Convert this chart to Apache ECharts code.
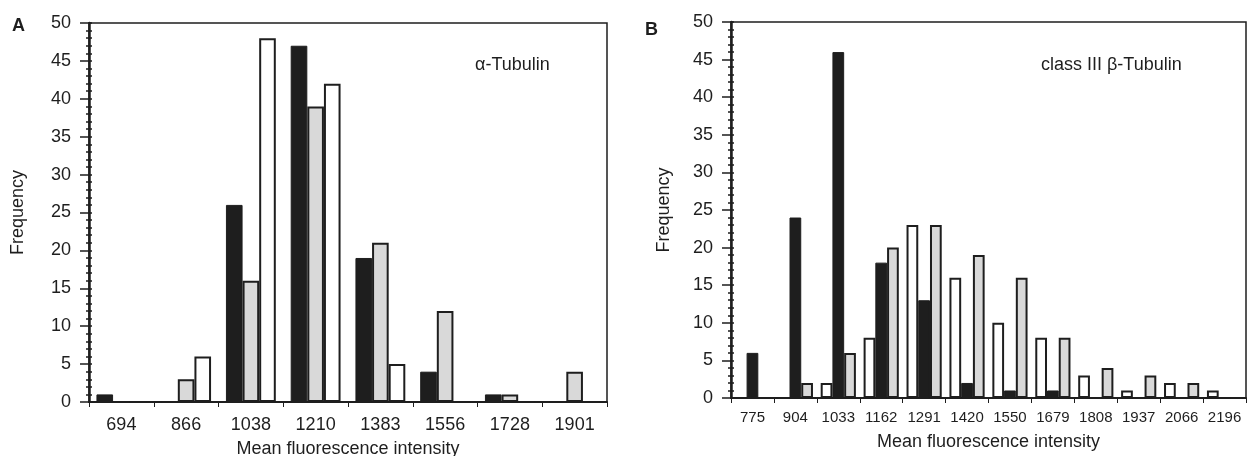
<!DOCTYPE html>
<html>
<head>
<meta charset="utf-8">
<script src="https://cdn.jsdelivr.net/npm/echarts@6/dist/echarts.min.js"></script>
<style>
  html, body { margin: 0; padding: 0; background: #fff; }
  #chart { width: 1248px; height: 456px; }
</style>
</head>
<body>
<div id="chart"></div>
<script>
// Panel A: alpha-tubulin
var catsA = ['694', '866', '1038', '1210', '1383', '1556', '1728', '1901'];
var blackA = [1, 0, 26, 47, 19, 4, 1, 0];
var grayA  = [0, 3, 16, 39, 21, 12, 1, 4];
var whiteA = [0, 6, 48, 42, 5, 0, 0, 0];

// Panel B: class III beta-tubulin
var catsB = ['775', '904', '1033', '1162', '1291', '1420', '1550', '1679', '1808', '1937', '2066', '2196'];
var whiteB = [0, 0, 2, 8, 23, 16, 10, 8, 3, 1, 2, 1];
var blackB = [6, 24, 46, 18, 13, 2, 1, 1, 0, 0, 0, 0];
var grayB  = [0, 2, 6, 20, 23, 19, 16, 8, 4, 3, 2, 0];

var font = "'Liberation Sans', Arial, sans-serif";
var ink = '#1e1e1e';

var styleBlack = { color: '#1e1e1e', borderColor: ink, borderWidth: 1 };
var styleGray = { color: '#d9d9d9', borderColor: ink, borderWidth: 2 };
var styleWhite = { color: '#ffffff', borderColor: ink, borderWidth: 2 };

function bar(name, data, xi, style, gap) {
    return {
        name: name,
        type: 'bar',
        xAxisIndex: xi,
        yAxisIndex: xi * 2,
        data: data,
        barGap: '0%',
        barCategoryGap: gap,
        itemStyle: style,
        silent: true
    };
}

function yMain(gi, nameGap) {
    return {
        type: 'value',
        gridIndex: gi,
        position: 'left',
        min: 0,
        max: 50,
        interval: 5,
        name: 'Frequency',
        nameLocation: 'middle',
        nameGap: nameGap,
        nameTextStyle: { fontFamily: font, fontSize: 18, color: ink },
        axisLine: { show: true, lineStyle: { color: ink, width: 2.5 } },
        axisTick: { show: true, length: 9, lineStyle: { color: ink, width: 1.5 } },
        minorTick: { show: true, splitNumber: 5, length: 3, lineStyle: { color: ink, width: 1.5 } },
        axisLabel: { fontFamily: font, fontSize: 18, color: ink, margin: 18 },
        splitLine: { show: false }
    };
}

// helper axis: minor ticks on the inner side of the y axis
function yInner(gi) {
    return {
        type: 'value',
        gridIndex: gi,
        position: 'left',
        min: 0,
        max: 50,
        interval: 1,
        axisLine: { show: false },
        axisTick: { show: true, inside: true, length: 3, lineStyle: { color: ink, width: 1.5 } },
        axisLabel: { show: false },
        splitLine: { show: false }
    };
}

function xAxis(gi, cats, fs, margin, nameGap) {
    return {
        type: 'category',
        gridIndex: gi,
        data: cats,
        name: 'Mean fluorescence intensity',
        nameLocation: 'middle',
        nameGap: nameGap,
        nameTextStyle: { fontFamily: font, fontSize: 18, color: ink, verticalAlign: 'top' },
        axisLine: { show: true, lineStyle: { color: ink, width: 2 } },
        axisTick: { show: true, length: 5, lineStyle: { color: ink, width: 1 } },
        axisLabel: { fontFamily: font, fontSize: fs, color: ink, margin: margin, interval: 0 },
        splitLine: { show: false }
    };
}

function label(text, left, top, size, weight) {
    return {
        text: text, left: left, top: top, padding: 0,
        textStyle: { fontFamily: font, fontSize: size, fontWeight: weight, color: ink }
    };
}

var chart = echarts.init(document.getElementById('chart'), null, { renderer: 'canvas' });

var option = {
    animation: false,
    backgroundColor: '#fff',
    title: [
        label('A', 12, 17, 18, 'bold'),
        label('B', 645, 21, 18, 'bold'),
        label('α-Tubulin', 475, 56, 18, 'normal'),
        label('class III β-Tubulin', 1041, 56, 18, 'normal')
    ],
    grid: [
        { left: 89, right: 641, top: 23, bottom: 54, outerBoundsMode: 'none', show: true, borderColor: ink, borderWidth: 1.5, backgroundColor: 'transparent' },
        { left: 731, right: 2, top: 22, bottom: 58, outerBoundsMode: 'none', show: true, borderColor: ink, borderWidth: 1.5, backgroundColor: 'transparent' }
    ],
    xAxis: [
        xAxis(0, catsA, 18, 14, 38),
        xAxis(1, catsB, 15, 12, 35)
    ],
    yAxis: [
        yMain(0, 62),
        yInner(0),
        yMain(1, 58),
        yInner(1)
    ],
    series: [
        bar('A black', blackA, 0, styleBlack, '23%'),
        bar('A gray', grayA, 0, styleGray, '23%'),
        bar('A white', whiteA, 0, styleWhite, '23%'),
        bar('B white', whiteB, 1, styleWhite, '18%'),
        bar('B black', blackB, 1, styleBlack, '18%'),
        bar('B gray', grayB, 1, styleGray, '18%')
    ]
};

chart.setOption(option);
</script>
</body>
</html>
